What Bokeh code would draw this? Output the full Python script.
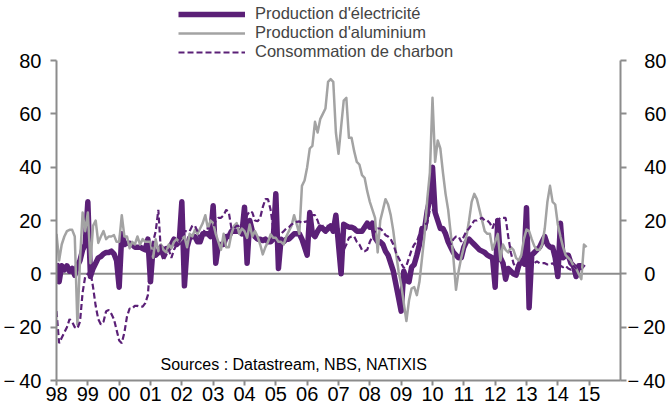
from bokeh.plotting import figure
from bokeh.models import LinearAxis, FixedTicker, Range1d, Span, Legend, LegendItem, Label, ColumnDataSource
from bokeh.embed import file_html
from bokeh.resources import INLINE

START_YEAR = 1998
tick_years = list(range(1998, 2016))
tick_labels = ["98", "99", "00", "01", "02", "03", "04", "05", "06", "07",
               "08", "09", "10", "11", "12", "13", "14", "15"]
y_ticks = [-40, -20, 0, 20, 40, 60, 80]

# Production d'électricité (monthly, y/y %), Jan 1998 -> Nov 2014
elec = [
    4, -3, 3, 1.5, 3, 1, 2, -0.5, 3, 5, 9, 11,            # 1998
    27, -1, 2, 4, 6, 6.5, 7.5, 8, 8, 8.5, 7.5, 5,          # 1999
    -5, 15, 11, 11.5, 11.5, 11, 10, 10, 10, 9.5, 9, 13,    # 2000
    -3, 10, 7, 8, 10, 7, 9.5, 9.5, 11, 13, 11, 12,         # 2001
    27, -4.5, 10, 13.5, 14, 14, 12, 12, 15, 15, 15, 14,    # 2002
    25.5, 4, 11, 11, 11, 14, 14, 16, 16, 16, 16, 15,       # 2003
    25, 4, 20, 16, 14, 13, 13, 12.5, 13, 12, 12, 13,       # 2004
    30, 2, 13, 12, 13, 13, 14, 15, 15, 15, 13, 10,         # 2005
    7, 23, 15, 14, 16, 17.5, 17, 16, 17, 18, 16, 22,       # 2006
    11, 0, 18.6, 18, 17.5, 17.5, 17, 16, 16, 16, 17.5, 19, # 2007
    17.5, 19, 13.5, 12, 12, 11, 8.5, 7, 4, 1, -4, -9,      # 2008
    -14, 1, -2.5, -3, 2.5, 3.5, 7, 11, 17, 17, 23.6, 28,   # 2009
    40, 23, 20, 17, 17, 15, 12, 10, 8, 7, 6, 6,            # 2010
    10, 12, 13, 12, 11, 10, 9, 8.5, 8, 7, 6.5, 6,          # 2011
    -5, 20, 6, 4, -2, 2, 1, 0, -0.5, 3, 5, 4,              # 2012
    24.8, -12.7, 7, 8, 9, 10, 12, 14, 11, 10, 10, 6,       # 2013
    -1, 19, 6, 7, 7, 4, 3, -1, 3, 3, 2.2,                  # 2014
]

# Production d'aluminium, Jan 1998 -> Dec 2014
alu = [
    15, 5, 11, 14, 16, 16.5, 16.5, 14, -19, 5, 23, 16,     # 1998
    23, 4, 18, 20, 11.6, 14, 16, 13, 14, 14, 14.5, 12,     # 1999
    12, 22, 14, 14, 9.6, 12, 11, 14, 11, 13, 12, 12,       # 2000
    12, 6, 13, 8.5, 11, 9, 8, 11, 9.6, 12, 13, 12,         # 2001
    13, 14, 10, 15, 14, 16.5, 15, 17, 19, 22, 17, 20,      # 2002
    19, 15, 12, 9, 15, 10, 10, 15, 18, 19, 15, 17,         # 2003
    16, 13.5, 18.5, 14, 16, 14, 11, 7.3, 10, 12, 14.8, 13.5,  # 2004
    13.5, 12, 12, 11, 14, 16, 18, 22, 18.5, 15, 33, 35,    # 2005
    40, 47, 48, 57, 53, 58, 60, 62, 72, 73, 72, 53,        # 2006
    45, 55, 65, 66, 51, 51, 46, 42, 41, 37, 36, 31,        # 2007
    27, 24, 21, 8, 20, 24, 28, 26, 22, 16, 8, 1,           # 2008
    -4, -11, -17.7, -10, -5.5, -5, -8, -3, 6, 15, 28, 38,  # 2009
    66, 42, 50, 47, 38, 30, 24, 15, 6, -6, 1, 6,           # 2010
    10, 14, 20, 27, 30, 28, 24, 20, 16, 15, 15, 9,         # 2011
    12, 15, 5, 11, 9, 8, 10, 9, 6, 5, 7, 13,               # 2012
    16.6, 16, 13, 10.4, 9, 9, 11, 17, 27, 33, 27, 26,      # 2013
    18.5, 14, 10, 7, 6, 5, 3, 2, 0, -2, 11, 10,            # 2014
]

# Consommation de charbon, Jan 1998 -> Oct 2014
coal = [
    -14, -26, -24, -22, -20, -17, -18, -20, -20.5, -18, -7, -1,  # 1998
    0, 1, -5, -12, -17, -19, -18, -14, -13.6, -15, -17, -21,     # 1999
    -25, -26, -22, -16, -13, -13, -12, -12, -12.3, -12.3, -11, -8,  # 2000
    6, 12, 16, 24, 8, 5, 7, 9, 6, 9, 11, 12,               # 2001
    14, 16, 16, 16, 18, 18, 16, 13, 15, 17, 17, 17,        # 2002
    17, 20, 21, 21, 22, 24, 23, 17, 17, 18, 18, 19,        # 2003
    19, 22, 23.5, 23, 20, 19.7, 21, 25, 28, 28, 24, 17,    # 2004
    15, 14.8, 15, 16, 17, 17.5, 18.5, 19, 19.5, 19.7, 19, 19.5,  # 2005
    19.7, 21, 22, 22, 20, 17, 18, 18, 18, 18, 17, 17,      # 2006
    17, 12, 9, 11, 13.5, 14, 14, 12, 11, 9, 8.5, 9,        # 2007
    12, 14, 16, 17, 17, 16, 14.5, 14, 13, 11, 8, 6,        # 2008
    4, 2.2, 3, 6, 9, 11, 12, 15, 17, 18.5, 19, 24,         # 2009
    24, 23, 21, 17, 16, 14, 13, 11, 13, 14, 14, 12,        # 2010
    14, 16, 17, 18.5, 20, 20, 20.5, 21, 20, 20, 19, 17,    # 2011
    20, 20, 21, 21, 21, 14, 8, 4, 2, 3, 4, 3,              # 2012
    3, 5, 4, 4, 4.7, 4, 4, 4, 3.5, 3.5, 4, 3,              # 2013
    3.5, 3, 2.5, 3, 2, 1.5, 3, 2, 1.5, 2,                  # 2014
]

series_names = ["Production d'électricité", "Production d'aluminium", "Consommation de charbon"]
source_text = "Sources : Datastream, NBS, NATIXIS"


def month_axis(values):
    return [START_YEAR + i / 12 for i in range(len(values))]


def tick_text(v, pad_positive):
    if v < 0:
        return "\u2212\u2009" + str(abs(v))
    return ("\u2007\u2008" if pad_positive else "") + str(v)


PURPLE = "#5B2077"
GREY = "#A3A3A3"
AXIS = "#8C8C8C"
FONT = "Liberation Sans"

# y range extended above 80 to leave room for the legend; axes are bounded to [-40, 80]
p = figure(width=670, height=416, x_range=Range1d(1998, 2016), y_range=Range1d(-40, 102.5),
           output_backend="svg", toolbar_location=None,
           min_border_left=56, min_border_right=50, min_border_top=0, min_border_bottom=36)
p.outline_line_color = None
p.xgrid.visible = False
p.ygrid.visible = False
p.background_fill_color = "white"

zero = Span(location=0, dimension="width", line_color=AXIS, line_width=2, level="underlay")
p.add_layout(zero)

src_e = ColumnDataSource(dict(x=month_axis(elec), y=elec))
src_a = ColumnDataSource(dict(x=month_axis(alu), y=alu))
src_c = ColumnDataSource(dict(x=month_axis(coal), y=coal))

r_e = p.line("x", "y", source=src_e, line_color=PURPLE, line_width=5.5, line_join="round")
r_a = p.line("x", "y", source=src_a, line_color=GREY, line_width=2.5, line_join="round")
r_c = p.line("x", "y", source=src_c, line_color=PURPLE, line_width=2.2, line_dash="6 3")

# axes
xa = p.xaxis[0]
xa.ticker = FixedTicker(ticks=tick_years)
xa.major_label_overrides = {y: l for y, l in zip(tick_years, tick_labels)}
ya = p.yaxis[0]
ya.ticker = FixedTicker(ticks=y_ticks)
ya.bounds = (-40, 80)
ya.major_label_overrides = {v: tick_text(v, False) for v in y_ticks}
ra = LinearAxis(ticker=FixedTicker(ticks=y_ticks), bounds=(-40, 80))
ra.major_label_overrides = {v: tick_text(v, True) for v in y_ticks}
p.add_layout(ra, "right")

for ax in (xa, ya, ra):
    ax.axis_line_color = AXIS
    ax.axis_line_width = 2
    ax.major_tick_line_color = AXIS
    ax.major_tick_line_width = 2
    ax.major_tick_in = 0
    ax.minor_tick_line_color = None
    ax.major_label_text_font = FONT
    ax.major_label_text_font_size = "20px"
    ax.major_label_text_color = "black"
xa.major_tick_out = 5
xa.major_label_standoff = 1
ya.major_tick_out = 6
ya.major_label_standoff = 9
ra.major_tick_out = 6
ra.major_label_standoff = 1

legend = Legend(items=[LegendItem(label=series_names[0], renderers=[r_e]),
                       LegendItem(label=series_names[1], renderers=[r_a]),
                       LegendItem(label=series_names[2], renderers=[r_c])],
                location=(122, 319), orientation="vertical",
                label_text_font=FONT, label_text_font_size="16.5px",
                glyph_width=67, glyph_height=18, label_height=18,
                label_standoff=10, spacing=0, padding=0, margin=0,
                border_line_color=None, background_fill_alpha=0)
p.add_layout(legend)

src_label = Label(x=104, y=16, x_units="screen", y_units="screen", text=source_text,
                  text_font=FONT, text_font_size="16px", text_color="black",
                  text_baseline="alphabetic")
p.add_layout(src_label)

open("out.html", "w").write(file_html(p, INLINE))
